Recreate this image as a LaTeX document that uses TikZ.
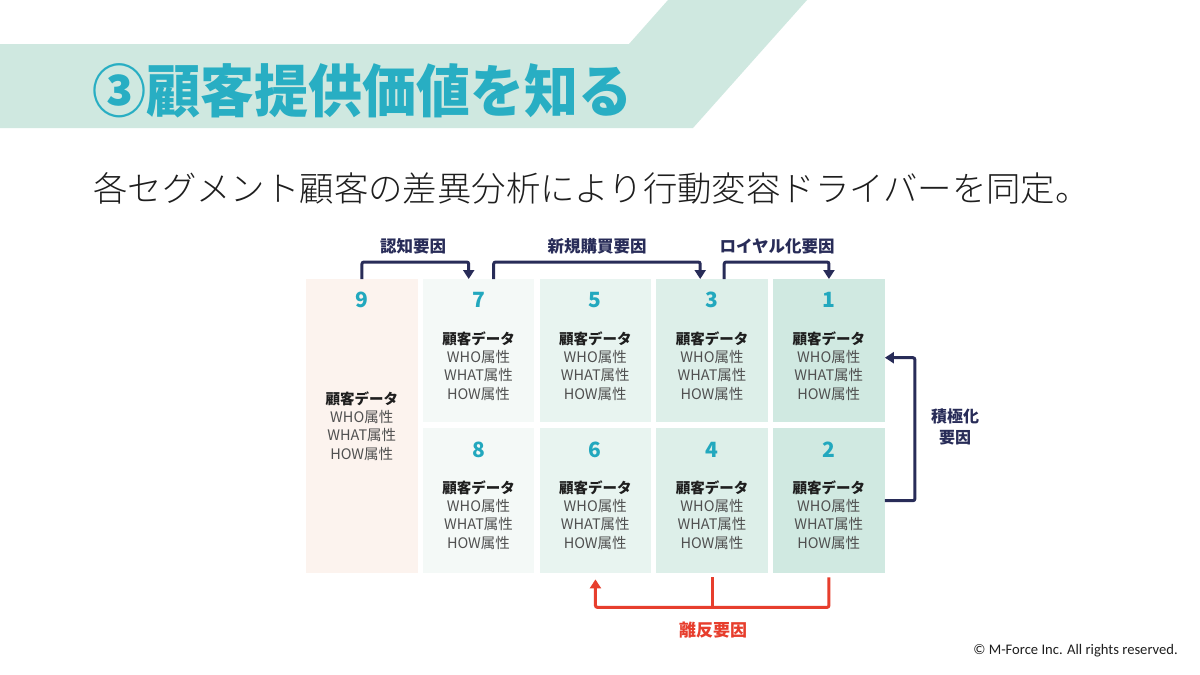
\documentclass[tikz,border=0pt]{standalone}
\usepackage{fontspec}
\setmainfont{Noto Sans CJK JP}
\newfontfamily\copyfont{Carlito}
\newfontfamily\lightfont{Noto Sans CJK JP Light}
\usetikzlibrary{arrows.meta,calc}
\definecolor{banner}{RGB}{207,232,224}
\definecolor{teal}{RGB}{40,174,195}
\definecolor{numteal}{RGB}{34,168,190}
\definecolor{navy}{RGB}{40,44,88}
\definecolor{redc}{RGB}{231,62,45}
\definecolor{fillnine}{RGB}{252,243,238}
\definecolor{fillseven}{RGB}{244,249,247}
\definecolor{fillfive}{RGB}{232,244,240}
\definecolor{fillthree}{RGB}{221,239,233}
\definecolor{fillone}{RGB}{208,233,225}
\definecolor{darktext}{RGB}{30,30,30}
\definecolor{attrtext}{RGB}{80,80,80}
\newcommand\custdata{{\bfseries\color{darktext}顧客データ}\\{\color{attrtext}WHO属性}\\{\color{attrtext}WHAT属性}\\{\color{attrtext}HOW属性}}
\begin{document}
\begin{tikzpicture}[x=1pt,y=-1pt,
  cellbox/.style={minimum width=111.5pt, minimum height=#1, inner sep=0pt, anchor=north west, draw=none},
  num/.style={text=numteal, font=\bfseries\fontsize{21}{24}\selectfont, inner sep=0pt},
  datatext/.style={align=center, font=\fontsize{14.5}{18.2}\selectfont, inner sep=0pt},
  lbl/.style={text=navy, font=\bfseries\fontsize{16.5}{21}\selectfont, inner sep=0pt, align=center},
  navyarr/.style={draw=navy, line width=3pt, rounded corners=2pt, -{Triangle[width=11pt,length=9pt]}},
  redarr/.style={draw=redc, line width=3pt, rounded corners=2pt, -{Triangle[width=11pt,length=9pt]}},
  redline/.style={draw=redc, line width=3pt}
]
\useasboundingbox (0,0) rectangle (1200,675);
\fill[white] (0,0) rectangle (1200,675);
% banner
\fill[banner] (0,44) -- (629,44) -- (668,0) -- (807,0) -- (693,128) -- (0,128) -- cycle;
\node[anchor=west, text=teal, font=\bfseries\fontsize{54}{60}\selectfont, inner sep=0pt] (title) at (92,91) {\scalebox{1}[1.06]{③顧客提供価値を知る}};
\node[text=darktext, font=\lightfont\fontsize{34.4}{40}\selectfont, inner sep=0pt] (sub) at (591.5,188) {各セグメント顧客の差異分析により行動変容ドライバーを同定。};
% cells
\node[cellbox=294pt, fill=fillnine] (c9) at (306,279) {};
\node[cellbox=143pt, fill=fillseven] (c7) at (422.75,279) {};
\node[cellbox=143pt, fill=fillfive] (c5) at (539.5,279) {};
\node[cellbox=143pt, fill=fillthree] (c3) at (656.25,279) {};
\node[cellbox=143pt, fill=fillone] (c1) at (773,279) {};
\node[cellbox=145pt, fill=fillseven] (c8) at (422.75,428) {};
\node[cellbox=145pt, fill=fillfive] (c6) at (539.5,428) {};
\node[cellbox=145pt, fill=fillthree] (c4) at (656.25,428) {};
\node[cellbox=145pt, fill=fillone] (c2) at (773,428) {};
% numbers
\node[num] (n9) at (361.75,300) {9};
\node[num] (n7) at (478.5,300) {7};
\node[num] (n5) at (595.25,300) {5};
\node[num] (n3) at (712,300) {3};
\node[num] (n1) at (828.75,300) {1};
\node[num] (n8) at (478.5,450) {8};
\node[num] (n6) at (595.25,450) {6};
\node[num] (n4) at (712,450) {4};
\node[num] (n2) at (828.75,450) {2};
% data texts
\node[datatext] (d9) at (361.75,426) {\custdata};
\node[datatext] (d7) at (478.5,366) {\custdata};
\node[datatext] (d5) at (595.25,366) {\custdata};
\node[datatext] (d3) at (712,366) {\custdata};
\node[datatext] (d1) at (828.75,366) {\custdata};
\node[datatext] (d8) at (478.5,515) {\custdata};
\node[datatext] (d6) at (595.25,515) {\custdata};
\node[datatext] (d4) at (712,515) {\custdata};
\node[datatext] (d2) at (828.75,515) {\custdata};
% top arrows
\draw[navyarr] (c9.north) -- ++(0,17pt) -| ([xshift=-10pt]c7.north);
\draw[navyarr] ([xshift=15pt]c7.north) -- ++(0,17pt) -| ([xshift=-12pt]c3.north);
\draw[navyarr] ([xshift=12pt]c3.north) -- ++(0,17pt) -| (c1.north);
\node[lbl] (l1) at (413,246) {認知要因};
\node[lbl] (l2) at (597,246) {新規購買要因};
\node[lbl] (l3) at (777,246) {ロイヤル化要因};
% right arrow
\draw[navyarr] (c2.east) -- ++(30pt,0) |- ([yshift=-7pt]c1.east);
\node[lbl, font=\bfseries\fontsize{16}{21}\selectfont] (l4) at (955,427) {積極化\\要因};
% bottom red arrow
\draw[redarr] ([yshift=-4pt]c2.south) -- ++(0,-30pt) -| ([yshift=-6pt]c6.south);
\draw[redline] ([yshift=-4pt]c4.south) -- ++(0,-30pt);
\node[lbl, text=redc, font=\bfseries\fontsize{17}{21}\selectfont] (l5) at (713,630) {離反要因};
% copyright
\node[anchor=east, text=darktext, font=\copyfont\fontsize{14.6}{16}\selectfont, inner sep=0pt] (cp) at (1178,651) {© M-Force Inc. All rights reserved.};
\end{tikzpicture}
\end{document}
